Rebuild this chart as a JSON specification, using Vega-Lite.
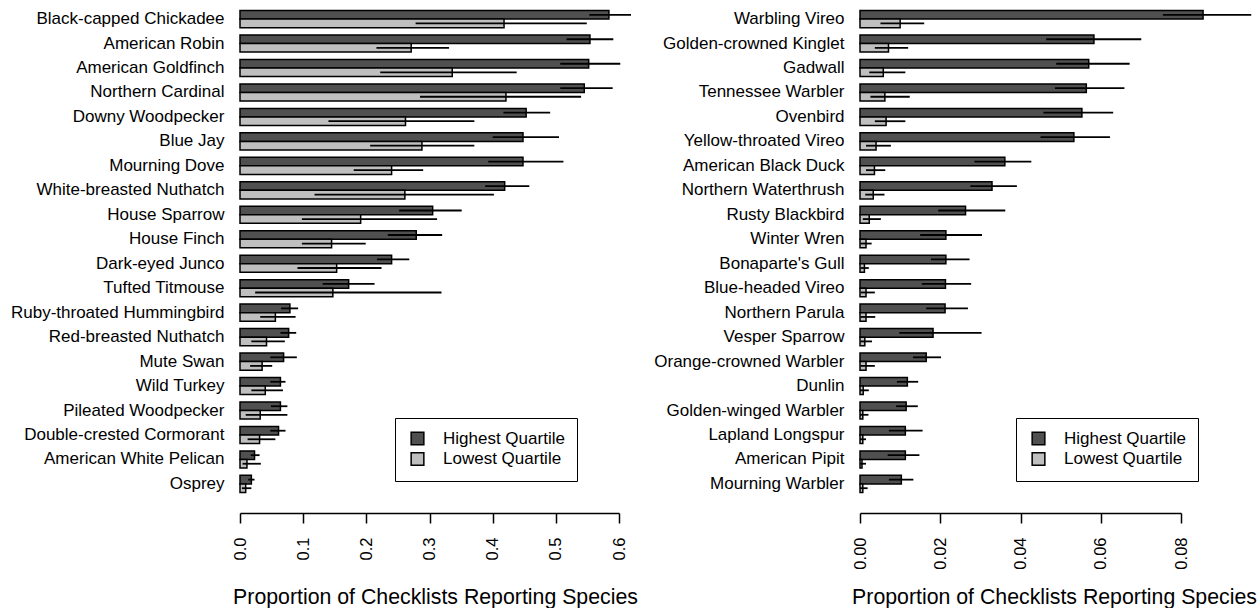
{
  "$schema": "https://vega.github.io/schema/vega-lite/v6.json",
  "padding": {"left": 10, "top": 0, "right": 0, "bottom": 0},
  "bounds": "flush",
  "spacing": 241,
  "background": "white",
  "config": {
    "font": "Liberation Sans",
    "view": {"stroke": null},
    "axis": {"labelColor": "black", "titleColor": "black", "labelFont": "Liberation Sans", "titleFont": "Liberation Sans", "titleFontWeight": "normal"},
    "legend": {"labelFont": "Liberation Sans", "labelColor": "black"}
  },
  "datasets": {
    "common": [
      {"species": "Black-capped Chickadee", "quartile": "Highest Quartile", "p": 0.584, "lo": 0.553, "hi": 0.619},
      {"species": "Black-capped Chickadee", "quartile": "Lowest Quartile", "p": 0.418, "lo": 0.278, "hi": 0.549},
      {"species": "American Robin", "quartile": "Highest Quartile", "p": 0.554, "lo": 0.517, "hi": 0.591},
      {"species": "American Robin", "quartile": "Lowest Quartile", "p": 0.271, "lo": 0.216, "hi": 0.331},
      {"species": "American Goldfinch", "quartile": "Highest Quartile", "p": 0.552, "lo": 0.507, "hi": 0.602},
      {"species": "American Goldfinch", "quartile": "Lowest Quartile", "p": 0.336, "lo": 0.222, "hi": 0.438},
      {"species": "Northern Cardinal", "quartile": "Highest Quartile", "p": 0.545, "lo": 0.507, "hi": 0.590},
      {"species": "Northern Cardinal", "quartile": "Lowest Quartile", "p": 0.421, "lo": 0.285, "hi": 0.540},
      {"species": "Downy Woodpecker", "quartile": "Highest Quartile", "p": 0.453, "lo": 0.417, "hi": 0.491},
      {"species": "Downy Woodpecker", "quartile": "Lowest Quartile", "p": 0.262, "lo": 0.140, "hi": 0.371},
      {"species": "Blue Jay", "quartile": "Highest Quartile", "p": 0.448, "lo": 0.400, "hi": 0.505},
      {"species": "Blue Jay", "quartile": "Lowest Quartile", "p": 0.288, "lo": 0.206, "hi": 0.371},
      {"species": "Mourning Dove", "quartile": "Highest Quartile", "p": 0.448, "lo": 0.393, "hi": 0.512},
      {"species": "Mourning Dove", "quartile": "Lowest Quartile", "p": 0.240, "lo": 0.180, "hi": 0.290},
      {"species": "White-breasted Nuthatch", "quartile": "Highest Quartile", "p": 0.419, "lo": 0.388, "hi": 0.458},
      {"species": "White-breasted Nuthatch", "quartile": "Lowest Quartile", "p": 0.261, "lo": 0.118, "hi": 0.402},
      {"species": "House Sparrow", "quartile": "Highest Quartile", "p": 0.305, "lo": 0.252, "hi": 0.351},
      {"species": "House Sparrow", "quartile": "Lowest Quartile", "p": 0.191, "lo": 0.098, "hi": 0.312},
      {"species": "House Finch", "quartile": "Highest Quartile", "p": 0.279, "lo": 0.234, "hi": 0.320},
      {"species": "House Finch", "quartile": "Lowest Quartile", "p": 0.145, "lo": 0.098, "hi": 0.199},
      {"species": "Dark-eyed Junco", "quartile": "Highest Quartile", "p": 0.240, "lo": 0.217, "hi": 0.268},
      {"species": "Dark-eyed Junco", "quartile": "Lowest Quartile", "p": 0.153, "lo": 0.091, "hi": 0.224},
      {"species": "Tufted Titmouse", "quartile": "Highest Quartile", "p": 0.172, "lo": 0.131, "hi": 0.213},
      {"species": "Tufted Titmouse", "quartile": "Lowest Quartile", "p": 0.147, "lo": 0.024, "hi": 0.319},
      {"species": "Ruby-throated Hummingbird", "quartile": "Highest Quartile", "p": 0.079, "lo": 0.065, "hi": 0.092},
      {"species": "Ruby-throated Hummingbird", "quartile": "Lowest Quartile", "p": 0.056, "lo": 0.032, "hi": 0.088},
      {"species": "Red-breasted Nuthatch", "quartile": "Highest Quartile", "p": 0.077, "lo": 0.064, "hi": 0.089},
      {"species": "Red-breasted Nuthatch", "quartile": "Lowest Quartile", "p": 0.042, "lo": 0.018, "hi": 0.071},
      {"species": "Mute Swan", "quartile": "Highest Quartile", "p": 0.069, "lo": 0.048, "hi": 0.090},
      {"species": "Mute Swan", "quartile": "Lowest Quartile", "p": 0.035, "lo": 0.016, "hi": 0.051},
      {"species": "Wild Turkey", "quartile": "Highest Quartile", "p": 0.064, "lo": 0.048, "hi": 0.072},
      {"species": "Wild Turkey", "quartile": "Lowest Quartile", "p": 0.040, "lo": 0.018, "hi": 0.068},
      {"species": "Pileated Woodpecker", "quartile": "Highest Quartile", "p": 0.064, "lo": 0.049, "hi": 0.075},
      {"species": "Pileated Woodpecker", "quartile": "Lowest Quartile", "p": 0.032, "lo": 0.009, "hi": 0.075},
      {"species": "Double-crested Cormorant", "quartile": "Highest Quartile", "p": 0.061, "lo": 0.048, "hi": 0.072},
      {"species": "Double-crested Cormorant", "quartile": "Lowest Quartile", "p": 0.031, "lo": 0.012, "hi": 0.056},
      {"species": "American White Pelican", "quartile": "Highest Quartile", "p": 0.023, "lo": 0.017, "hi": 0.031},
      {"species": "American White Pelican", "quartile": "Lowest Quartile", "p": 0.011, "lo": 0.004, "hi": 0.033},
      {"species": "Osprey", "quartile": "Highest Quartile", "p": 0.018, "lo": 0.013, "hi": 0.023},
      {"species": "Osprey", "quartile": "Lowest Quartile", "p": 0.009, "lo": 0.003, "hi": 0.018}
    ],
    "rare": [
      {"species": "Warbling Vireo", "quartile": "Highest Quartile", "p": 0.0855, "lo": 0.0755, "hi": 0.0975},
      {"species": "Warbling Vireo", "quartile": "Lowest Quartile", "p": 0.0100, "lo": 0.0051, "hi": 0.0160},
      {"species": "Golden-crowned Kinglet", "quartile": "Highest Quartile", "p": 0.0583, "lo": 0.0464, "hi": 0.0701},
      {"species": "Golden-crowned Kinglet", "quartile": "Lowest Quartile", "p": 0.0071, "lo": 0.0037, "hi": 0.0120},
      {"species": "Gadwall", "quartile": "Highest Quartile", "p": 0.0570, "lo": 0.0489, "hi": 0.0672},
      {"species": "Gadwall", "quartile": "Lowest Quartile", "p": 0.0058, "lo": 0.0023, "hi": 0.0113},
      {"species": "Tennessee Warbler", "quartile": "Highest Quartile", "p": 0.0564, "lo": 0.0486, "hi": 0.0659},
      {"species": "Tennessee Warbler", "quartile": "Lowest Quartile", "p": 0.0062, "lo": 0.0026, "hi": 0.0124},
      {"species": "Ovenbird", "quartile": "Highest Quartile", "p": 0.0553, "lo": 0.0457, "hi": 0.0631},
      {"species": "Ovenbird", "quartile": "Lowest Quartile", "p": 0.0065, "lo": 0.0037, "hi": 0.0113},
      {"species": "Yellow-throated Vireo", "quartile": "Highest Quartile", "p": 0.0533, "lo": 0.0450, "hi": 0.0623},
      {"species": "Yellow-throated Vireo", "quartile": "Lowest Quartile", "p": 0.0040, "lo": 0.0015, "hi": 0.0077},
      {"species": "American Black Duck", "quartile": "Highest Quartile", "p": 0.0361, "lo": 0.0285, "hi": 0.0427},
      {"species": "American Black Duck", "quartile": "Lowest Quartile", "p": 0.0036, "lo": 0.0015, "hi": 0.0063},
      {"species": "Northern Waterthrush", "quartile": "Highest Quartile", "p": 0.0329, "lo": 0.0275, "hi": 0.0391},
      {"species": "Northern Waterthrush", "quartile": "Lowest Quartile", "p": 0.0033, "lo": 0.0013, "hi": 0.0061},
      {"species": "Rusty Blackbird", "quartile": "Highest Quartile", "p": 0.0263, "lo": 0.0195, "hi": 0.0362},
      {"species": "Rusty Blackbird", "quartile": "Lowest Quartile", "p": 0.0023, "lo": 0.0007, "hi": 0.0052},
      {"species": "Winter Wren", "quartile": "Highest Quartile", "p": 0.0214, "lo": 0.0150, "hi": 0.0304},
      {"species": "Winter Wren", "quartile": "Lowest Quartile", "p": 0.0015, "lo": 0.0001, "hi": 0.0029},
      {"species": "Bonaparte's Gull", "quartile": "Highest Quartile", "p": 0.0214, "lo": 0.0177, "hi": 0.0273},
      {"species": "Bonaparte's Gull", "quartile": "Lowest Quartile", "p": 0.0011, "lo": 0.0001, "hi": 0.0022},
      {"species": "Blue-headed Vireo", "quartile": "Highest Quartile", "p": 0.0213, "lo": 0.0154, "hi": 0.0277},
      {"species": "Blue-headed Vireo", "quartile": "Lowest Quartile", "p": 0.0015, "lo": 0.0002, "hi": 0.0037},
      {"species": "Northern Parula", "quartile": "Highest Quartile", "p": 0.0212, "lo": 0.0165, "hi": 0.0269},
      {"species": "Northern Parula", "quartile": "Lowest Quartile", "p": 0.0015, "lo": 0.0001, "hi": 0.0038},
      {"species": "Vesper Sparrow", "quartile": "Highest Quartile", "p": 0.0182, "lo": 0.0098, "hi": 0.0303},
      {"species": "Vesper Sparrow", "quartile": "Lowest Quartile", "p": 0.0012, "lo": 0.0001, "hi": 0.0030},
      {"species": "Orange-crowned Warbler", "quartile": "Highest Quartile", "p": 0.0165, "lo": 0.0132, "hi": 0.0202},
      {"species": "Orange-crowned Warbler", "quartile": "Lowest Quartile", "p": 0.0015, "lo": 0.0001, "hi": 0.0037},
      {"species": "Dunlin", "quartile": "Highest Quartile", "p": 0.0118, "lo": 0.0092, "hi": 0.0145},
      {"species": "Dunlin", "quartile": "Lowest Quartile", "p": 0.0008, "lo": 0.0, "hi": 0.0022},
      {"species": "Golden-winged Warbler", "quartile": "Highest Quartile", "p": 0.0115, "lo": 0.0090, "hi": 0.0144},
      {"species": "Golden-winged Warbler", "quartile": "Lowest Quartile", "p": 0.0007, "lo": 0.0, "hi": 0.0021},
      {"species": "Lapland Longspur", "quartile": "Highest Quartile", "p": 0.0113, "lo": 0.0072, "hi": 0.0156},
      {"species": "Lapland Longspur", "quartile": "Lowest Quartile", "p": 0.0007, "lo": 0.0, "hi": 0.0015},
      {"species": "American Pipit", "quartile": "Highest Quartile", "p": 0.0113, "lo": 0.0069, "hi": 0.0148},
      {"species": "American Pipit", "quartile": "Lowest Quartile", "p": 0.0005, "lo": 0.0, "hi": 0.0015},
      {"species": "Mourning Warbler", "quartile": "Highest Quartile", "p": 0.0103, "lo": 0.0072, "hi": 0.0133},
      {"species": "Mourning Warbler", "quartile": "Lowest Quartile", "p": 0.0007, "lo": 0.0, "hi": 0.0019}
    ]
  },
  "resolve": {"scale": {"x": "independent", "y": "independent", "color": "independent"}, "legend": {"color": "independent"}},
  "hconcat": [
    {
      "data": {"name": "common"},
      "width": 379,
      "height": 503,
      "encoding": {
        "y": {"field": "species", "type": "nominal", "sort": null, "title": null,
          "scale": {"paddingInner": 0.3, "paddingOuter": 0.43},
          "axis": {"domain": false, "ticks": false, "labelPadding": 16, "labelFontSize": 17, "labelLimit": 400}},
        "yOffset": {"field": "quartile", "type": "nominal", "sort": ["Highest Quartile", "Lowest Quartile"], "scale": {"paddingInner": 0, "paddingOuter": 0}}
      },
      "layer": [
        {
          "mark": {"type": "bar", "stroke": "black", "strokeWidth": 1.5, "opacity": 1},
          "encoding": {
            "x": {"field": "p", "type": "quantitative", "title": "Proportion of Checklists Reporting Species",
              "scale": {"domain": [0, 0.6], "nice": false, "zero": true},
              "axis": {"values": [0, 0.1, 0.2, 0.3, 0.4, 0.5, 0.6], "format": ".1f", "labelAngle": 270, "labelFontSize": 16.5,
                "grid": false, "offset": 10, "tickSize": 10, "tickColor": "black", "tickWidth": 1.5, "domainColor": "black", "domainWidth": 1.5,
                "labelPadding": 14, "titleFontSize": 21.3, "titleX": 195, "titleY": 90, "titleBaseline": "alphabetic"}},
            "color": {"field": "quartile", "type": "nominal", "sort": ["Highest Quartile", "Lowest Quartile"],
              "scale": {"domain": ["Highest Quartile", "Lowest Quartile"], "range": ["#505050", "#BFBFBF"]},
              "legend": {"title": null, "orient": "none", "legendX": 155, "legendY": 418, "strokeColor": "black",
                "fillColor": "white", "padding": 12, "labelFontSize": 17, "symbolType": "square", "symbolSize": 161,
                "symbolStrokeColor": "black", "symbolStrokeWidth": 1.5, "symbolOffset": 2, "labelOffset": 17, "rowPadding": 1.5, "symbolOpacity": 1}}
          }
        },
        {
          "mark": {"type": "rule", "color": "black", "strokeWidth": 1.8},
          "encoding": {
            "x": {"field": "lo", "type": "quantitative"},
            "x2": {"field": "hi"}
          }
        }
      ]
    },
    {
      "data": {"name": "rare"},
      "width": 321,
      "height": 503,
      "encoding": {
        "y": {"field": "species", "type": "nominal", "sort": null, "title": null,
          "scale": {"paddingInner": 0.3, "paddingOuter": 0.43},
          "axis": {"domain": false, "ticks": false, "labelPadding": 16, "labelFontSize": 17, "labelLimit": 400}},
        "yOffset": {"field": "quartile", "type": "nominal", "sort": ["Highest Quartile", "Lowest Quartile"], "scale": {"paddingInner": 0, "paddingOuter": 0}}
      },
      "layer": [
        {
          "mark": {"type": "bar", "stroke": "black", "strokeWidth": 1.5, "opacity": 1},
          "encoding": {
            "x": {"field": "p", "type": "quantitative", "title": "Proportion of Checklists Reporting Species",
              "scale": {"domain": [0, 0.08], "nice": false, "zero": true},
              "axis": {"values": [0, 0.02, 0.04, 0.06, 0.08], "format": ".2f", "labelAngle": 270, "labelFontSize": 16.5,
                "grid": false, "offset": 10, "tickSize": 10, "tickColor": "black", "tickWidth": 1.5, "domainColor": "black", "domainWidth": 1.5,
                "labelPadding": 14, "titleFontSize": 21.3, "titleX": 194, "titleY": 90, "titleBaseline": "alphabetic"}},
            "color": {"field": "quartile", "type": "nominal", "sort": ["Highest Quartile", "Lowest Quartile"],
              "scale": {"domain": ["Highest Quartile", "Lowest Quartile"], "range": ["#505050", "#BFBFBF"]},
              "legend": {"title": null, "orient": "none", "legendX": 156, "legendY": 418, "strokeColor": "black",
                "fillColor": "white", "padding": 12, "labelFontSize": 17, "symbolType": "square", "symbolSize": 161,
                "symbolStrokeColor": "black", "symbolStrokeWidth": 1.5, "symbolOffset": 2, "labelOffset": 17, "rowPadding": 1.5, "symbolOpacity": 1}}
          }
        },
        {
          "mark": {"type": "rule", "color": "black", "strokeWidth": 1.8},
          "encoding": {
            "x": {"field": "lo", "type": "quantitative"},
            "x2": {"field": "hi"}
          }
        }
      ]
    }
  ]
}
